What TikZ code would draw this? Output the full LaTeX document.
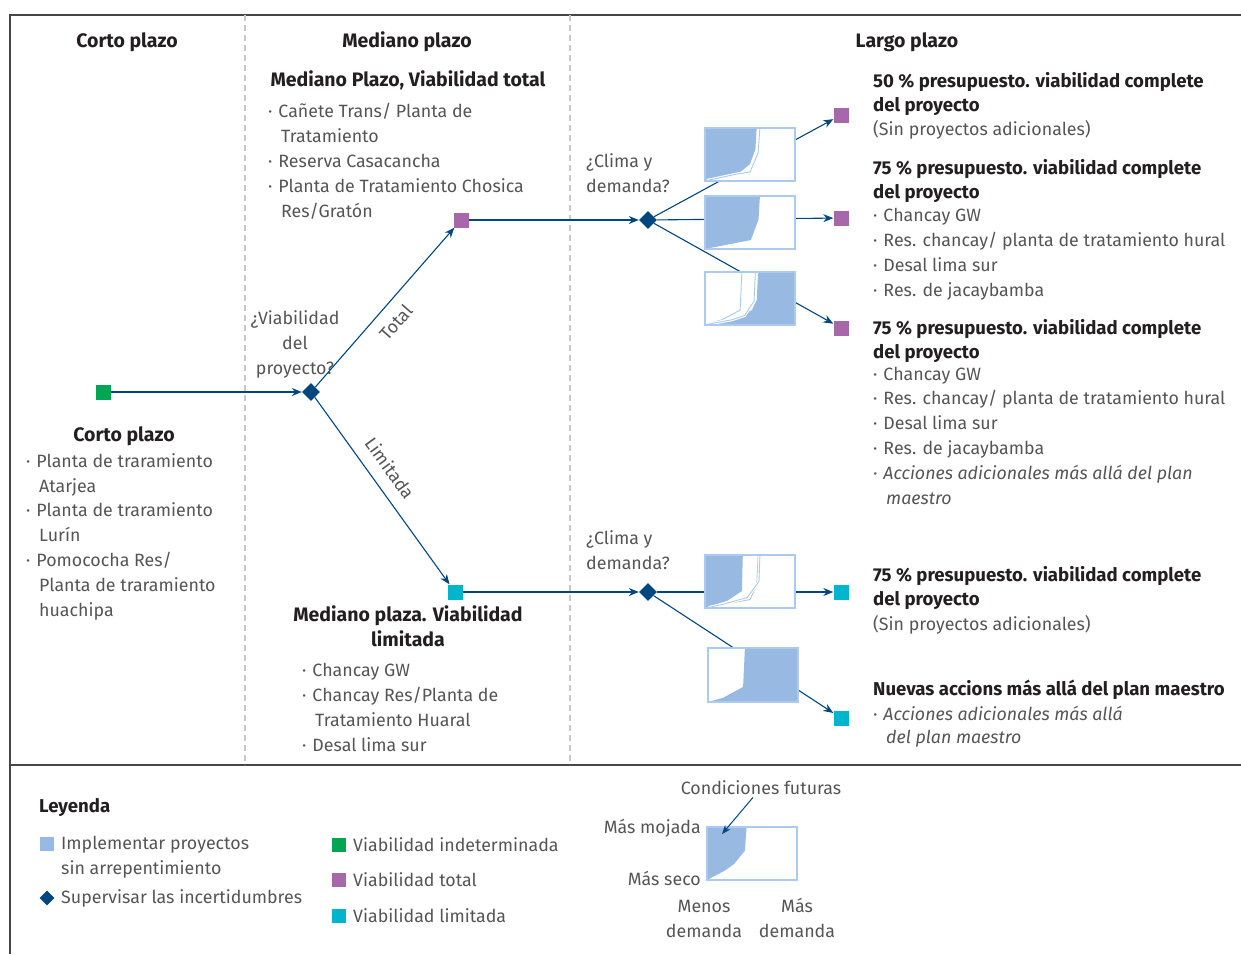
\documentclass[tikz,border=0pt]{standalone}
\usepackage{fontspec}
\setmainfont{Fira Sans}
\usepackage{tikz}
\usetikzlibrary{arrows.meta, positioning, shapes.geometric, calc}
\definecolor{planblue}{RGB}{0, 70, 127}
\definecolor{chartblue}{RGB}{151, 185, 226}
\definecolor{chartedge}{RGB}{172, 202, 236}
\definecolor{viabgreen}{RGB}{0, 166, 81}
\definecolor{viabpurple}{RGB}{168, 102, 171}
\definecolor{viabcyan}{RGB}{0, 181, 204}
\definecolor{textgray}{RGB}{85, 85, 85}
\definecolor{headgray}{RGB}{35, 31, 32}
\definecolor{framegray}{RGB}{70, 70, 70}
\definecolor{dashgray}{RGB}{200, 200, 200}
\newcommand{\bul}{·\hspace{6pt}}
\newcommand{\cont}{\hspace*{13pt}}
\tikzset{
  flow/.style={planblue, line width=1.1pt, -{Stealth[length=10pt, width=8pt]}},
  decision/.style={diamond, fill=planblue, inner sep=0pt, minimum size=18pt},
  state/.style={rectangle, inner sep=0pt, minimum size=15pt},
  txt/.style={text=textgray, font=\fontsize{17.8}{24.8}\selectfont, inner sep=0pt, align=left},
  head/.style={text=headgray, font=\fontsize{18.6}{24}\selectfont\bfseries, inner sep=0pt, align=left},
  colhead/.style={head, font=\fontsize{19.5}{25}\selectfont\bfseries},
  chartbox/.style={draw=chartedge, line width=1.3pt},
  scenario/.style={chartedge, line width=0.9pt, preaction={draw=white, line width=3pt}},
}
\begin{document}
\begin{tikzpicture}[x=1pt, y=-1pt]
    \useasboundingbox (0,0) rectangle (1241,954);
    % (multi-line nodes sit on the baseline of their last line)

    % Frame and columns
    \draw[framegray, line width=1.5pt] (1241,15) -- (10,15) -- (10,954);
    \draw[framegray, line width=1.5pt] (10,765) -- (1241,765);
    \draw[dashgray, line width=1.6pt, dash pattern=on 6pt off 4pt] (245,15) -- (245,765);
    \draw[dashgray, line width=1.6pt, dash pattern=on 6pt off 4pt] (570,15) -- (570,765);

    % Column headings
    \node[colhead, anchor=base] (hcorto) at (127,47) {Corto plazo};
    \node[colhead, anchor=base] (hmediano) at (407,47) {Mediano plazo};
    \node[colhead, anchor=base] (hlargo) at (907,47) {Largo plazo};

    % Short term
    \node[state, fill=viabgreen] (g0) at (103,392) {};
    \node[colhead, anchor=base] (ctitle) at (124,441) {Corto plazo};
    \node[txt, anchor=base west] (clist) at (26,616)
        {\bul Planta de traramiento\\\cont Atarjea\\\bul Planta de traramiento\\\cont Lurín\\
         \bul Pomococha Res/\\\cont Planta de traramiento\\\cont huachipa};

    % First decision
    \node[decision] (d0) at (311,392) {};
    \node[txt, anchor=base, align=center] (qviab) at (295,374) {¿Viabilidad\\del\\proyecto?};

    % Medium term, total
    \node[colhead, anchor=base] (mttitle) at (408,86) {Mediano Plazo, Viabilidad total};
    \node[txt, anchor=base west] (mtlist) at (268,217)
        {\bul Cañete Trans/ Planta de\\\cont Tratamiento\\\bul Reserva Casacancha\\
         \bul Planta de Tratamiento Chosica\\\cont Res/Gratón};
    \node[state, fill=viabpurple] (p1) at (461,220) {};

    % Medium term, limited
    \node[state, fill=viabcyan] (c1) at (455,592) {};
    \node[colhead, anchor=base, align=center] (mltitle) at (408,646) {Mediano plaza. Viabilidad\\limitada};
    \node[txt, anchor=base west] (mllist) at (302,751)
        {\bul Chancay GW\\\bul Chancay Res/Planta de\\\cont Tratamiento Huaral\\\bul Desal lima sur};

    % Second decisions
    \node[decision] (d1) at (648,220) {};
    \node[decision] (d2) at (648,592) {};
    \node[txt, anchor=base west] (qclima1) at (586,192) {¿Clima y\\demanda?};
    \node[txt, anchor=base west] (qclima2) at (586,569) {¿Clima y\\demanda?};

    % Long term outcomes
    \node[state, fill=viabpurple] (p2) at (841,115) {};
    \node[state, fill=viabpurple] (p3) at (841,218) {};
    \node[state, fill=viabpurple] (p4) at (841,328) {};
    \node[state, fill=viabcyan] (c2) at (841,592) {};
    \node[state, fill=viabcyan] (c3) at (841,718) {};

    % Connectors
    \draw[flow] (g0) -- (d0);
    \draw[flow] (d0) -- node[txt, sloped, pos=0.48, below=11pt] (ltotal) {Total} (p1);
    \draw[flow] (d0) -- node[txt, sloped, pos=0.44, above=12pt] (llimit) {Limitada} (c1);
    \draw[flow] (p1) -- (d1);
    \draw[flow] (c1) -- (d2);
    \draw[flow] (d1) -- (p2);
    \draw[flow] (d1) -- (p3);
    \draw[flow] (d1) -- (p4);
    \draw[flow] (d2) -- (c2);
    \draw[flow] (d2) -- (c3);

    % Chart 1
    \begin{scope}[shift={(705,128)}, x=90pt, y=-53pt]
        \fill[white] (0,0) rectangle (1,1);
        \fill[chartblue] (0,0) -- (0.574,0) -- (0.56,0.4) -- (0.5,0.68) -- (0.4,0.82)
            -- (0.3,0.88) -- (0,1) -- cycle;
        \draw[scenario] (0.61,0) -- (0.59,0.47) -- (0.5,0.83) -- (0.35,0.87) -- (0.02,0.99);
        \draw[chartbox] (0,0) rectangle (1,1);
    \end{scope}

    % Chart 2
    \begin{scope}[shift={(705,196)}, x=90pt, y=-53pt]
        \fill[white] (0,0) rectangle (1,1);
        \fill[chartblue] (0,0) -- (0.61,0) -- (0.595,0.44) -- (0.51,0.83) -- (0,1) -- cycle;
        \draw[chartbox] (0,0) rectangle (1,1);
    \end{scope}

    % Chart 3
    \begin{scope}[shift={(705,272)}, x=90pt, y=-53pt]
        \fill[white] (0,0) rectangle (1,1);
        \fill[chartblue] (0.59,0) -- (1,0) -- (1,1) -- (0,1) -- (0.35,0.87) -- (0.52,0.72)
            -- (0.575,0.53) -- cycle;
        \draw[scenario] (0.41,0) -- (0.39,0.72) -- (0.19,0.9) -- (0.02,0.98);
        \draw[scenario] (0.56,0) -- (0.545,0.55) -- (0.44,0.82) -- (0.3,0.9) -- (0.02,0.99);
        \draw[chartbox] (0,0) rectangle (1,1);
    \end{scope}

    % Chart 4
    \begin{scope}[shift={(705,555)}, x=90pt, y=-53pt]
        \fill[white] (0,0) rectangle (1,1);
        \fill[chartblue] (0,0) -- (0.42,0) -- (0.41,0.68) -- (0.25,0.86) -- (0,1) -- cycle;
        \draw[scenario] (0.59,0) -- (0.575,0.56) -- (0.5,0.84) -- (0.12,0.96);
        \draw[scenario] (0.61,0) -- (0.6,0.5) -- (0.47,0.8) -- (0.2,0.93) -- (0.04,0.99);
        \draw[chartbox] (0,0) rectangle (1,1);
    \end{scope}

    % Chart 5
    \begin{scope}[shift={(708,648)}, x=90pt, y=-54pt]
        \fill[white] (0,0) rectangle (1,1);
        \fill[chartblue] (0.41,0) -- (1,0) -- (1,1) -- (0,1) -- (0.17,0.92) -- (0.39,0.72) -- cycle;
        \draw[chartbox] (0,0) rectangle (1,1);
    \end{scope}

    % Outcome texts
    \node[head, anchor=base west] (o1h) at (873,111) {50 \% presupuesto. viabilidad complete\\del proyecto};
    \node[txt, anchor=base west] (o1t) at (873,135) {(Sin proyectos adicionales)};
    \node[head, anchor=base west] (o2h) at (873,198) {75 \% presupuesto. viabilidad complete\\del proyecto};
    \node[txt, anchor=base west] (o2t) at (873,296)
        {\bul Chancay GW\\\bul Res. chancay/ planta de tratamiento hural\\\bul Desal lima sur\\\bul Res. de jacaybamba};
    \node[head, anchor=base west] (o3h) at (873,358) {75 \% presupuesto. viabilidad complete\\del proyecto};
    \node[txt, anchor=base west] (o3t) at (873,504)
        {\bul Chancay GW\\\bul Res. chancay/ planta de tratamiento hural\\\bul Desal lima sur\\\bul Res. de jacaybamba\\
         \itshape\bul Acciones adicionales más allá del plan\\\itshape\cont maestro};
    \node[head, anchor=base west] (o4h) at (873,605) {75 \% presupuesto. viabilidad complete\\del proyecto};
    \node[txt, anchor=base west] (o4t) at (873,630) {(Sin proyectos adicionales)};
    \node[head, anchor=base west] (o5h) at (873,695) {Nuevas accions más allá del plan maestro};
    \node[txt, anchor=base west, font=\fontsize{17.8}{23}\selectfont\itshape] (o5t) at (873,743)
        {\bul Acciones adicionales más allá\\\cont del plan maestro};

    % Legend
    \node[head, anchor=base west] (leyenda) at (39,812) {Leyenda};
    \node[state, fill=chartblue, minimum size=14pt] (lgblue) at (47,844) {};
    \node[txt, anchor=base west] (lgbluet) at (61,874) {Implementar proyectos\\sin arrepentimiento};
    \node[decision, minimum size=15pt] (lgdia) at (47,898) {};
    \node[txt, anchor=base west] (lgdiat) at (61,903) {Supervisar las incertidumbres};
    \node[state, fill=viabgreen, minimum size=14pt] (lggreen) at (339,845) {};
    \node[txt, anchor=base west] (lggreent) at (353,851) {Viabilidad indeterminada};
    \node[state, fill=viabpurple, minimum size=14pt] (lgpurple) at (339,880) {};
    \node[txt, anchor=base west] (lgpurplet) at (353,886) {Viabilidad total};
    \node[state, fill=viabcyan, minimum size=14pt] (lgcyan) at (339,916) {};
    \node[txt, anchor=base west] (lgcyant) at (353,922) {Viabilidad limitada};

    % Legend chart
    \begin{scope}[shift={(707,827)}, x=90pt, y=-53pt]
        \fill[white] (0,0) rectangle (1,1);
        \fill[chartblue] (0,0) -- (0.44,0) -- (0.42,0.45) -- (0.3,0.7) -- (0.2,0.82) -- (0,1) -- cycle;
        \draw[chartbox] (0,0) rectangle (1,1);
    \end{scope}
    \node[txt, anchor=base] (cond) at (761,794) {Condiciones futuras};
    \coordinate (condpt) at (722,834);
    \draw[flow, line width=1pt, -{Stealth[length=9pt, width=7pt]}] ([xshift=-8pt, yshift=-3pt]cond.south) -- (condpt);
    \node[txt, anchor=base east] (mojada) at (701,833) {Más mojada};
    \node[txt, anchor=base east] (seco) at (701,885) {Más seco};
    \node[txt, anchor=base, align=center] (menos) at (704,937) {Menos\\demanda};
    \node[txt, anchor=base, align=center] (mas) at (797,937) {Más\\demanda};
\end{tikzpicture}
\end{document}
